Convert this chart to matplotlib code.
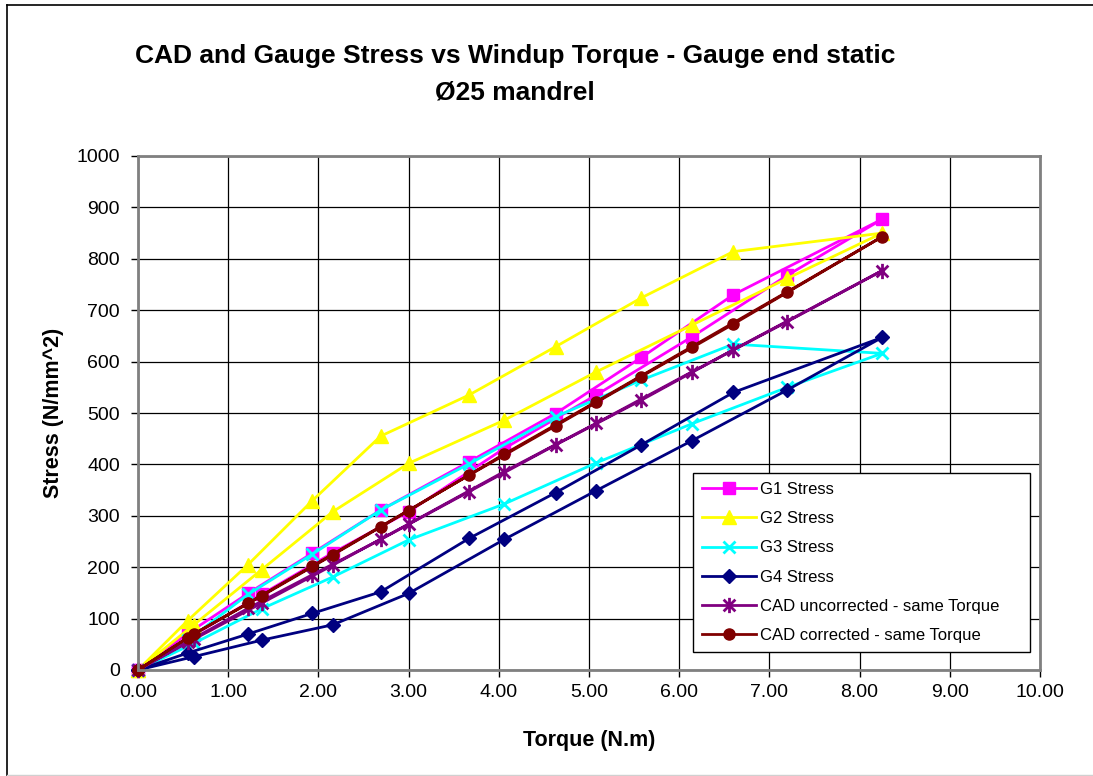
import numpy as np
import matplotlib
matplotlib.use('Agg')
import matplotlib.pyplot as plt
from matplotlib.path import Path
from matplotlib.lines import Line2D

plt.rcParams['font.family'] = ['Liberation Sans', 'DejaVu Sans']

# torque values: loading up to 8.25, then unloading back to zero
torque = [0, 0.55, 1.22, 1.93, 2.69, 3.67, 4.63, 5.58, 6.60, 8.25,
          7.20, 6.14, 5.08, 4.06, 3.00, 2.16, 1.37, 0.62, 0]

g1_stress = [0, 71, 149, 227, 311, 405, 499, 608, 730, 877,
             768, 648, 535, 431, 308, 228, 147, 68, 0]
g2_stress = [0, 96, 205, 329, 455, 535, 629, 724, 814, 850,
             762, 671, 580, 486, 402, 308, 195, 88, 0]
g3_stress = [0, 58, 147, 225, 311, 401, 493, 564, 634, 616,
             550, 479, 403, 323, 253, 181, 119, 52, 0]
g4_stress = [0, 33, 70, 110, 152, 256, 345, 438, 540, 647,
             545, 446, 349, 254, 149, 88, 58, 26, 0]
cad_uncorr = [0, 55, 120, 185, 254, 347, 438, 525, 623, 777,
              678, 580, 480, 386, 284, 204, 130, 60, 0]
cad_corr = [0, 63, 130, 202, 279, 379, 475, 571, 673, 843,
            736, 629, 522, 420, 310, 224, 144, 70, 0]

labels = ['G1 Stress', 'G2 Stress', 'G3 Stress', 'G4 Stress',
          'CAD uncorrected - same Torque', 'CAD corrected - same Torque']

# Excel style asterisk marker (x with a vertical bar)
star = Path([(-1, -1), (1, 1), (-1, 1), (1, -1), (0, -1.3), (0, 1.3)],
            [Path.MOVETO, Path.LINETO, Path.MOVETO, Path.LINETO,
             Path.MOVETO, Path.LINETO])

styles = [
    dict(color='#FF00FF', marker='s', ms=8),
    dict(color='#FFFF00', marker='^', ms=10),
    dict(color='#00FFFF', marker='x', ms=9, mew=2),
    dict(color='#000080', marker='D', ms=7),
    dict(color='#800080', marker=star, ms=11, mew=2),
    dict(color='#800000', marker='o', ms=8),
]

fig = plt.figure(figsize=(10.93, 7.76), dpi=100)
ax = fig.add_axes([138 / 1093, 106 / 776, 902 / 1093, 514 / 776])

series = [g1_stress, g2_stress, g3_stress, g4_stress, cad_uncorr, cad_corr]
for values, label, st in zip(series, labels, styles):
    ax.plot(torque, values, label=label, lw=2, clip_on=False, **st)

ax.set_xlim(0, 10)
ax.set_ylim(0, 1000)
ax.set_xticks(np.arange(0, 11, 1))
ax.set_xticklabels([f'{v:.2f}' for v in range(11)])
ax.set_yticks(np.arange(0, 1001, 100))
ax.tick_params(labelsize=14, direction='out', length=5, width=1, color='black')
ax.tick_params(axis='y', pad=8)
ax.tick_params(axis='x', pad=5)
ax.grid(True, color='black', lw=0.9)
ax.set_axisbelow(True)
for side in ['top', 'right', 'left', 'bottom']:
    ax.spines[side].set_color('#808080')
    ax.spines[side].set_linewidth(2)

ax.set_xlabel('Torque (N.m)', fontsize=15.5, fontweight='bold', labelpad=21)
ax.set_ylabel('Stress (N/mm^2)', fontsize=15.5, fontweight='bold', labelpad=9)

fig.text(515 / 1093, 1 - 56 / 776, 'CAD and Gauge Stress vs Windup Torque - Gauge end static',
         ha='center', va='center', fontsize=19, fontweight='bold')
fig.text(515 / 1093, 1 - 92 / 776, '\u00d825 mandrel',
         ha='center', va='center', fontsize=19, fontweight='bold')

lx0 = (693 - 138) / 902
lw_ = (1030 - 693) / 902
ly1 = (670 - 473) / 514
lh = (657 - 473) / 514
leg = ax.legend(loc='upper left', bbox_to_anchor=(lx0, ly1 - lh, lw_, lh), mode='expand',
                fontsize=12, fancybox=False, framealpha=1, edgecolor='black',
                borderaxespad=0, handlelength=3.2, labelspacing=0.85,
                borderpad=0.55, handletextpad=0.3)
leg.get_frame().set_linewidth(1)

# chart area border (only left/top visible, faint bottom)
fig.add_artist(Line2D([7 / 1093, 7 / 1093], [0, 1 - 5 / 776], color='black', lw=1.2))
fig.add_artist(Line2D([7 / 1093, 1], [1 - 5 / 776, 1 - 5 / 776], color='black', lw=1.2))
fig.add_artist(Line2D([7 / 1093, 1], [1 / 776, 1 / 776], color='#d0d0d0', lw=1))

fig.savefig('out.png', dpi=100)
